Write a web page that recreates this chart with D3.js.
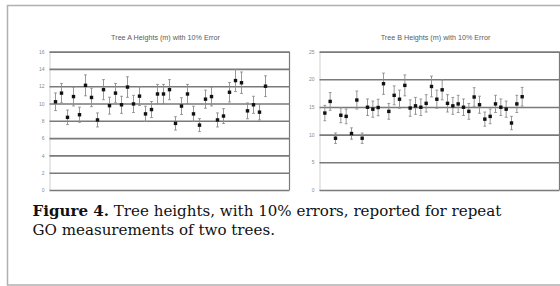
<!DOCTYPE html>
<html><head><meta charset="utf-8">
<script src="https://cdnjs.cloudflare.com/ajax/libs/d3/7.8.5/d3.min.js"></script>
<style>html,body{margin:0;padding:0;background:#fff;overflow:hidden}</style>
</head><body>
<script>
// Data
const treeAHeights = [10.2,11.2,8.4,10.8,8.7,12.1,10.7,8.1,11.6,9.75,11.2,9.85,11.9,9.95,10.85,8.8,9.3,11.1,11.1,11.6,7.7,9.7,11.1,8.8,7.5,10.5,10.8,8.1,8.55,11.3,12.65,12.4,9.15,9.85,9.0,12.0];
const treeBHeights = [13.9,16.0,9.35,13.5,13.3,10.2,16.25,9.35,14.95,14.6,14.9,19.2,14.2,17.1,16.4,18.9,14.8,15.2,14.95,15.65,18.7,16.4,18.1,15.65,15.2,15.55,14.95,14.2,16.8,15.4,12.8,13.3,15.55,14.95,14.6,12.1,15.55,16.85];
const errorFraction = 0.10;
const treeATicks = [0,2,4,6,8,10,12,14,16];
const treeBTicks = [0,5,10,15,20,25];
const titles = ["Tree A Heights (m) with 10% Error", "Tree B Heights (m) with 10% Error"];
const captionBold = "Figure 4.";
const captionLine1 = " Tree heights, with 10% errors, reported for repeat";
const captionLine2 = "GO measurements of two trees.";

const W = 560, H = 286;
const svg = d3.select("body").append("svg").attr("width", W).attr("height", H);

// outer frame
svg.append("rect").attr("x", 7.5).attr("y", 5.5).attr("width", 620).attr("height", 279.5)
  .attr("fill", "none").attr("stroke", "#b0b0b0").attr("stroke-width", 1.5);

function panel(values, ticks, xMax, title, left, right) {
  const top = 51.6, bottom = 190;
  const x = d3.scaleLinear().domain([0, xMax]).range([left, right]);
  const y = d3.scaleLinear().domain([0, ticks[ticks.length-1]]).range([bottom, top]);
  const g = svg.append("g");

  const ax = d3.axisLeft(y).tickValues(ticks).tickSizeInner(-(right-left)).tickSizeOuter(0).tickPadding(5)
    .tickFormat(d3.format("d"));
  const ag = g.append("g").attr("transform", `translate(${left},0)`).call(ax);
  ag.select(".domain").attr("stroke", "#cfcfcf").attr("stroke-width", 1);
  ag.selectAll(".tick line").attr("stroke", "#7a7a7a").attr("stroke-width", 1.6);
  ag.selectAll(".tick text").attr("fill", "#8a8a8a").attr("font-family", "Liberation Sans, Arial, sans-serif")
    .attr("font-size", 5);
  g.append("line").attr("x1", right).attr("x2", right).attr("y1", top).attr("y2", bottom)
    .attr("stroke", "#7a7a7a").attr("stroke-width", 1.2);

  g.append("text").attr("x", (left+right)/2 - 4).attr("y", 40).attr("text-anchor", "middle")
    .attr("font-family", "Liberation Sans, Arial, sans-serif").attr("font-size", 7.2).attr("fill", "#5a5a5a")
    .text(title);

  const eb = g.append("g").attr("stroke", "#8c8c8c").attr("stroke-width", 0.9);
  values.forEach((v, i) => {
    const cx = x(i+1), e = v*errorFraction;
    eb.append("line").attr("x1", cx).attr("x2", cx).attr("y1", y(v+e)).attr("y2", y(v-e));
    eb.append("line").attr("x1", cx-1.4).attr("x2", cx+1.4).attr("y1", y(v+e)).attr("y2", y(v+e));
    eb.append("line").attr("x1", cx-1.4).attr("x2", cx+1.4).attr("y1", y(v-e)).attr("y2", y(v-e));
  });
  g.append("g").selectAll("rect").data(values).join("rect")
    .attr("x", (d,i) => x(i+1)-1.7).attr("y", d => y(d)-1.7)
    .attr("width", 3.4).attr("height", 3.4).attr("fill", "#111");
}

panel(treeAHeights, treeATicks, 40, titles[0], 49.5, 289.5);
panel(treeBHeights, treeBTicks, 45, titles[1], 319.5, 559.5);

// caption: fit first line to the reference width
const capX = 32.5, targetW = 469;
const cap = svg.append("text").attr("font-family", "'DejaVu Serif', 'Liberation Serif', serif")
  .attr("font-size", 15).attr("fill", "#111");
const l1 = cap.append("tspan").attr("x", capX).attr("y", 215.5);
l1.append("tspan").attr("font-weight", "bold").text(captionBold);
l1.append("tspan").text(captionLine1);
const l2 = cap.append("tspan").attr("x", capX).attr("y", 234.5).text(captionLine2);
const bb = cap.node().getBBox();
const fs = 15 * targetW / bb.width;
cap.attr("font-size", fs);
</script>
</body></html>
